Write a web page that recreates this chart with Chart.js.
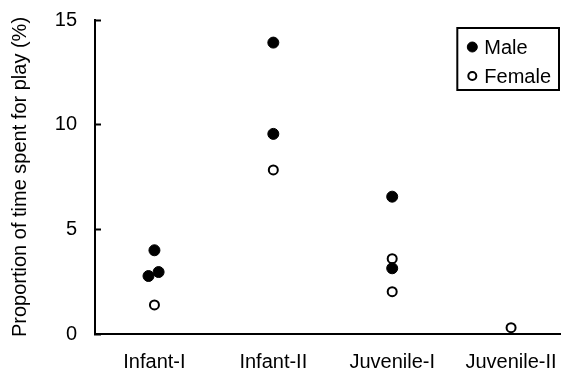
<!DOCTYPE html>
<html>
<head>
<meta charset="utf-8">
<script src="https://cdn.jsdelivr.net/npm/chart.js@4.4.6/dist/chart.umd.min.js"></script>
<style>
  html, body { margin: 0; padding: 0; background: #fff; }
  #chart { display: block; }
</style>
</head>
<body>
<canvas id="chart" width="561" height="374"></canvas>
<script>
/* age classes along the x axis */
const categories = ["Infant-I", "Infant-II", "Juvenile-I", "Juvenile-II"];

/* males: age class (1-based), small horizontal nudge, % of time spent playing */
const maleGroup = [1, 1, 1, 2, 2, 3, 3];
const maleNudge = [0, 0.035, -0.05, 0, 0, 0, 0];
const maleValues = [4.0, 2.96, 2.77, 13.92, 9.56, 6.56, 3.14];

/* females */
const femaleGroup = [1, 2, 3, 3, 4];
const femaleNudge = [0, 0, 0, 0, 0];
const femaleValues = [1.39, 7.84, 3.6, 2.02, 0.3];

const yTicks = [0, 5, 10, 15];

const toPoints = (groups, nudges, values) =>
  values.map((v, i) => ({ x: groups[i] + nudges[i], y: v }));

Chart.defaults.font.family = '"Liberation Sans", Arial, Helvetica, sans-serif';
Chart.defaults.color = "#000";

/* legend drawn inside the plot with a frame round it */
const boxLegend = {
  id: "boxLegend",
  afterDatasetsDraw(chart) {
    const { ctx, chartArea } = chart;
    ctx.save();
    ctx.font = '20px "Liberation Sans", Arial, sans-serif';
    const items = chart.data.datasets;
    const textW = Math.max(...items.map(d => ctx.measureText(d.label).width));
    const w = 27 + textW + 8;
    const h = 62;
    const left = chartArea.right - 2 - w;
    const top = chartArea.top + 8;
    ctx.lineWidth = 2;
    ctx.strokeStyle = "#000";
    ctx.strokeRect(left, top, w, h);
    items.forEach((d, i) => {
      const y = top + 19 + i * 29;
      ctx.beginPath();
      ctx.arc(left + 15, y, d.pointRadius - 0.5, 0, Math.PI * 2);
      ctx.fillStyle = d.pointBackgroundColor;
      ctx.fill();
      ctx.lineWidth = d.pointBorderWidth;
      ctx.stroke();
      ctx.fillStyle = "#000";
      ctx.textBaseline = "middle";
      ctx.fillText(d.label, left + 27, y + 1);
    });
    ctx.restore();
  }
};

const config = {
  type: "scatter",
  data: {
    datasets: [
      {
        label: "Male",
        data: toPoints(maleGroup, maleNudge, maleValues),
        pointRadius: 5.5,
        pointBackgroundColor: "#000",
        pointBorderColor: "#000",
        pointBorderWidth: 1
      },
      {
        label: "Female",
        data: toPoints(femaleGroup, femaleNudge, femaleValues),
        pointRadius: 4.5,
        pointBackgroundColor: "#fff",
        pointBorderColor: "#000",
        pointBorderWidth: 2
      }
    ]
  },
  options: {
    responsive: false,
    animation: false,
    layout: { autoPadding: false, padding: { top: 20, right: 0, bottom: 0, left: 0 } },
    plugins: {
      legend: { display: false },
      tooltip: { enabled: false }
    },
    scales: {
      x: {
        type: "linear",
        min: 0.5,
        max: 4.42,
        afterBuildTicks: (scale) => {
          scale.ticks = categories.map((c, i) => ({ value: i + 1 }));
        },
        afterFit: (scale) => {
          scale.height = 40;
          scale.paddingLeft = 0;
          scale.paddingRight = 0;
        },
        grid: { display: false },
        border: { display: true, color: "#000", width: 2 },
        ticks: {
          autoSkip: false,
          maxRotation: 0,
          padding: 8,
          font: { size: 20 },
          callback: (v) => categories[v - 1]
        }
      },
      y: {
        min: 0,
        max: 15,
        afterBuildTicks: (scale) => {
          scale.ticks = yTicks.map(v => ({ value: v }));
        },
        afterFit: (scale) => {
          scale.width = 95;
          scale.paddingTop = 0;
          scale.paddingBottom = 0;
        },
        grid: {
          drawOnChartArea: false,
          drawTicks: true,
          tickLength: -6,
          tickWidth: 2,
          color: "#000"
        },
        border: { display: true, color: "#000", width: 2 },
        ticks: { padding: 24, font: { size: 20 } },
        title: {
          display: true,
          text: "Proportion of time spent for play (%)",
          font: { size: 20 },
          padding: { top: 8, bottom: 0 }
        }
      }
    }
  },
  plugins: [boxLegend]
};

new Chart(document.getElementById("chart"), config);
</script>
</body>
</html>
